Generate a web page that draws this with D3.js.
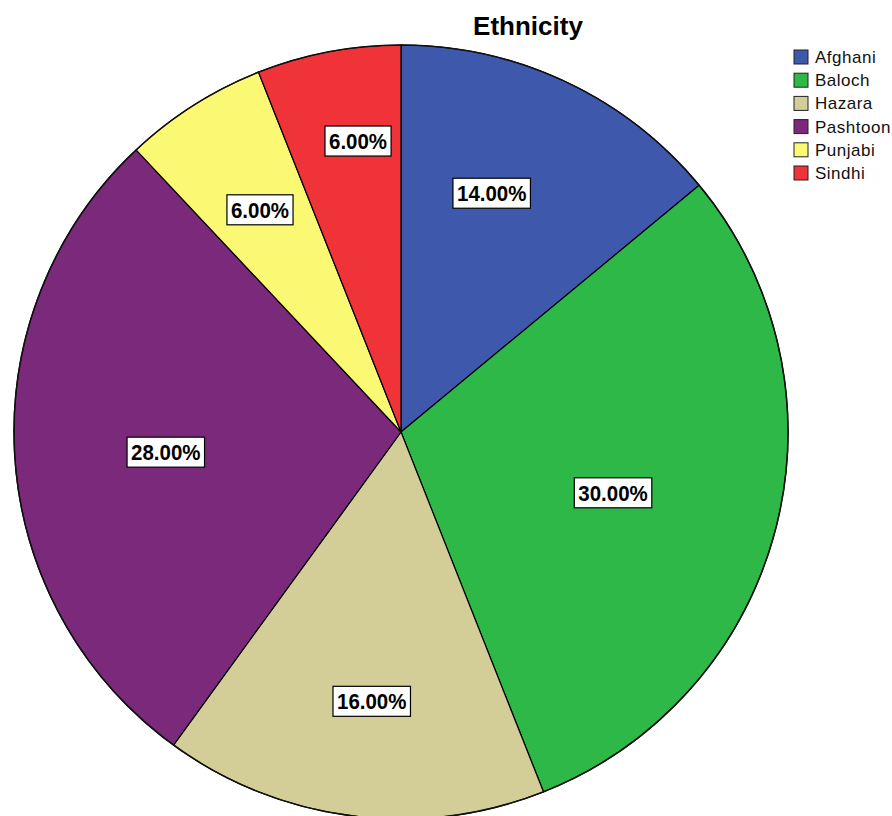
<!DOCTYPE html>
<html>
<head>
<meta charset="utf-8">
<script src="https://cdn.jsdelivr.net/npm/d3@7"></script>
<style>
  body { margin: 0; background: #fff; }
  svg { display: block; font-family: "Liberation Sans", Arial, sans-serif; }
</style>
</head>
<body>
<div id="vis"></div>
<script>
'use strict';

// Data
const categories = ['Afghani', 'Baloch', 'Hazara', 'Pashtoon', 'Punjabi', 'Sindhi'];
const percents = [14, 30, 16, 28, 6, 6];
const colors = ['#3e58ac', '#2eb848', '#d3ce97', '#7b2a7b', '#fbf873', '#ef3338'];

// Label placement: share of the radius, and a small turn (degrees) off the bisector
const labelRadii = [0.66, 0.57, 0.70, 0.61, 0.68, 0.76];
const labelTurns = [-4.4, 1.6, -1, -1.3, 0, 2.4];

const width = 892;
const height = 816;
const center = { x: 401, y: 432 };
const radius = 387;
const textSqueeze = 0.93;

const svg = d3.select('#vis')
  .append('svg')
  .attr('width', width)
  .attr('height', height);

// title
svg.append('text')
  .attr('x', 528)
  .attr('y', 35)
  .attr('text-anchor', 'middle')
  .style('font-size', '26px')
  .style('font-weight', 'bold')
  .text('Ethnicity');

const pie = d3.pie()
  .sort(null)
  .value(d => d);

const arcs = pie(percents);

const arc = d3.arc()
  .innerRadius(0)
  .outerRadius(radius);

const g = svg.append('g')
  .attr('transform', `translate(${center.x},${center.y})`);

g.selectAll('path.slice')
  .data(arcs)
  .enter().append('path')
  .attr('class', 'slice')
  .attr('d', arc)
  .attr('fill', (d, i) => colors[i])
  .attr('stroke', '#000')
  .attr('stroke-width', 1.2)
  .attr('stroke-linejoin', 'round');

// outer rim, a bit heavier
g.append('circle')
  .attr('r', radius)
  .attr('fill', 'none')
  .attr('stroke', '#111')
  .attr('stroke-width', 1.5);

// percentage labels in white boxes
const labels = g.selectAll('g.label')
  .data(arcs)
  .enter().append('g')
  .attr('class', 'label')
  .attr('transform', (d, i) => {
    const mid = (d.startAngle + d.endAngle) / 2 + labelTurns[i] * Math.PI / 180;
    const r = radius * labelRadii[i];
    return `translate(${Math.sin(mid) * r},${-Math.cos(mid) * r})`;
  });

labels.append('rect');

labels.append('text')
  .attr('text-anchor', 'middle')
  .attr('dy', '0.36em')
  .attr('transform', `scale(${textSqueeze},1)`)
  .style('font-size', '22px')
  .style('font-weight', 'bold')
  .text(d => d3.format('.2f')(d.data) + '%');

labels.each(function () {
  const box = d3.select(this).select('text').node().getBBox();
  const w = box.width * textSqueeze;
  d3.select(this).select('rect')
    .attr('x', -w / 2 - 4)
    .attr('y', -15)
    .attr('width', w + 8)
    .attr('height', 30)
    .attr('fill', '#fff')
    .attr('stroke', '#000')
    .attr('stroke-width', 1.2);
});

// legend
const legend = svg.append('g')
  .attr('transform', 'translate(794,50)');

const rows = legend.selectAll('g')
  .data(categories)
  .enter().append('g')
  .attr('transform', (d, i) => `translate(0,${i * 23.2})`);

rows.append('rect')
  .attr('width', 14)
  .attr('height', 14)
  .attr('fill', (d, i) => colors[i])
  .attr('stroke', '#222')
  .attr('stroke-width', 1);

rows.append('text')
  .attr('x', 21)
  .attr('y', 13)
  .style('font-size', '17px')
  .style('letter-spacing', '0.5px')
  .attr('fill', '#111')
  .text(d => d);
</script>
</body>
</html>
